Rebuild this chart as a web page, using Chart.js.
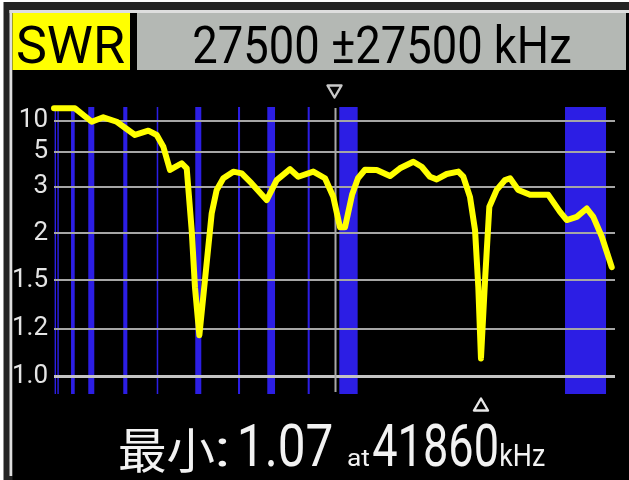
<!DOCTYPE html>
<html>
<head>
<meta charset="utf-8">
<script src="https://cdn.jsdelivr.net/npm/chart.js@4.4.0/dist/chart.umd.min.js"></script>
<style>
  html, body { margin: 0; padding: 0; background: #fff; }
  canvas { display: block; }
</style>
</head>
<body>
<canvas id="swrChart" width="629" height="480"></canvas>
<script>
// sweep: centre +/- span, kHz
const centerKHz = 27500;
const spanKHz = 27500;

// measured SWR curve
const freqKHz = [0, 2060, 3700, 4830, 6150, 7940, 9250, 10070, 10720, 11370,
  12520, 13010, 13500, 13820, 14250, 14800, 15460, 15950, 16600, 17580,
  18400, 19380, 20850, 21830, 23140, 23950, 25420, 26570, 27380, 28040,
  28530, 29220, 29800, 30490, 31640, 32940, 33920, 35230, 36050, 36860,
  37520, 38500, 39640, 40130, 40780, 41280, 41600, 41860, 42260, 42680,
  43400, 44220, 44710, 45520, 46670, 48460, 49610, 50270, 51250, 52230,
  52870, 53700, 54680];
const swr = [15.5, 15.5, 9.7, 11.1, 9.7, 6.95, 7.67, 6.95, 5.47, 3.76,
  4.15, 3.85, 2.05, 1.45, 1.17, 1.5, 2.36, 2.91, 3.35, 3.67,
  3.58, 3.13, 2.65, 3.27, 3.8, 3.42, 3.67, 3.35, 2.73, 2.1,
  2.1, 2.78, 3.35, 3.77, 3.76, 3.45, 3.85, 4.25, 3.94, 3.42,
  3.3, 3.55, 3.67, 3.42, 2.73, 2.05, 1.45, 1.07, 1.5, 2.5,
  2.91, 3.27, 3.35, 2.91, 2.78, 2.78, 2.39, 2.23, 2.29, 2.46,
  2.29, 1.96, 1.62];

// ham bands shown in blue, kHz
const bandStartKHz = [60, 330, 1670, 3360, 6790, 10070, 13850, 18040, 20910, 24870, 27970, 50100];
const bandEndKHz = [137, 470, 2030, 3950, 7190, 10220, 14440, 18240, 21670, 25070, 29770, 54120];

// y axis ticks
const yTickValues = [1.0, 1.2, 1.5, 2, 3, 5, 10];
const yTickLabels = ['1.0', '1.2', '1.5', '2', '3', '5', '10'];

// the analyzer's SWR scale is not linear: axis units reached at each tick
const swrAxisSteps = [0, 47.3, 96, 142.7, 189.3, 224.3, 255.3];

const gamma = (s) => (s - 1) / (s + 1);
function swrToAxis(s) {
  const g = gamma(s);
  const n = yTickValues.length;
  for (let i = 1; i < n; i++) {
    const g0 = gamma(yTickValues[i - 1]);
    const g1 = gamma(yTickValues[i]);
    if (g <= g1 || i === n - 1) {
      return swrAxisSteps[i - 1] + (g - g0) / (g1 - g0) * (swrAxisSteps[i] - swrAxisSteps[i - 1]);
    }
  }
  return 0;
}

const SANS = 'Roboto, "DejaVu Sans", sans-serif';
const CJK = '"Noto Sans CJK SC", "Noto Sans CJK JP", sans-serif';

let minIdx = 0;
swr.forEach((v, i) => { if (v < swr[minIdx]) minIdx = i; });

// squeeze a string so its ink runs from x0 to x1 (display font is condensed)
function fitText(c, text, x0, x1, baseline, font) {
  c.font = font;
  const m = c.measureText(text);
  const ink = m.actualBoundingBoxLeft + m.actualBoundingBoxRight;
  const k = (x1 - x0) / ink;
  c.save();
  c.translate(x0 + m.actualBoundingBoxLeft * k, baseline);
  c.scale(k, 1);
  c.textAlign = 'left';
  c.fillText(text, 0, 0);
  c.restore();
}

const analyzerFrame = {
  id: 'analyzerFrame',
  beforeDraw(chart) {
    const c = chart.ctx;
    const xs = chart.scales.x;
    const area = chart.chartArea;
    c.save();
    c.fillStyle = '#ffffff';
    c.fillRect(0, 0, 629, 480);
    c.fillStyle = '#242424';
    c.fillRect(3.5, 2, 626, 478);
    c.fillStyle = '#dedede';
    c.fillRect(9.5, 10, 620, 3);
    c.fillRect(9.5, 10, 3, 466);
    c.fillStyle = '#000000';
    c.fillRect(12.5, 13, 617, 467);
    c.fillStyle = '#ffff00';
    c.fillRect(12.5, 13, 117.5, 57);
    c.fillStyle = '#b4b8b4';
    c.fillRect(137, 13, 489, 57);

    c.fillStyle = '#000';
    c.textBaseline = 'alphabetic';
    fitText(c, 'SWR', 18, 125, 63, '52px ' + SANS);
    fitText(c, centerKHz + ' \u00b1' + spanKHz + ' kHz', 194, 571, 63, '52px ' + SANS);

    c.fillStyle = '#2c1ee4';
    bandStartKHz.forEach((b, i) => {
      const x0 = xs.getPixelForValue(b);
      let x1 = xs.getPixelForValue(bandEndKHz[i]);
      if (x1 - x0 < 1.4) x1 = x0 + 1.4;
      c.fillRect(x0, area.top, x1 - x0, area.bottom - area.top);
    });
    c.restore();
  },
  beforeDatasetsDraw(chart) {
    const c = chart.ctx;
    const xs = chart.scales.x;
    const area = chart.chartArea;
    const xc = Math.round(xs.getPixelForValue(centerKHz)) + 0.5;
    c.save();
    c.strokeStyle = '#a8a8a8';
    c.lineWidth = 2;
    c.beginPath();
    c.moveTo(xc, area.top + 1);
    c.lineTo(xc, area.bottom - 2);
    c.stroke();
    c.restore();
  },
  afterDraw(chart) {
    const c = chart.ctx;
    const xs = chart.scales.x;
    const xc = xs.getPixelForValue(centerKHz);
    const xm = xs.getPixelForValue(freqKHz[minIdx]);
    c.save();
    c.lineWidth = 2.4;
    c.lineJoin = 'round';
    c.strokeStyle = '#c8c8c8';
    c.beginPath();
    c.moveTo(xc - 7, 85.5);
    c.lineTo(xc + 7, 85.5);
    c.lineTo(xc, 97.5);
    c.closePath();
    c.stroke();
    c.strokeStyle = '#e8e8e8';
    c.beginPath();
    c.moveTo(xm - 7, 410.5);
    c.lineTo(xm + 7, 410.5);
    c.lineTo(xm, 398.5);
    c.closePath();
    c.stroke();

    c.fillStyle = '#f2f2f2';
    c.textBaseline = 'alphabetic';
    fitText(c, '最小', 120, 214, 468, '48px ' + CJK);
    fitText(c, ':', 218, 227, 466, '52px ' + SANS);
    fitText(c, swr[minIdx].toFixed(2), 241, 332, 466, '60px ' + SANS);
    fitText(c, 'at', 348, 370, 466, '24px ' + SANS);
    fitText(c, String(freqKHz[minIdx]), 373, 497, 466, '60px ' + SANS);
    fitText(c, 'kHz', 501, 545, 466, '31px ' + SANS);
    c.restore();
  }
};

new Chart(document.getElementById('swrChart'), {
  type: 'line',
  data: {
    datasets: [{
      data: freqKHz.map((f, i) => ({ x: f, y: swrToAxis(swr[i]) })),
      borderColor: '#ffff00',
      borderWidth: 6,
      borderJoinStyle: 'round',
      borderCapStyle: 'round',
      pointRadius: 0,
      tension: 0,
      clip: 8
    }]
  },
  options: {
    responsive: false,
    animation: false,
    devicePixelRatio: 1,
    layout: { padding: { left: 12, right: 14, top: 107, bottom: 86 } },
    plugins: { legend: { display: false }, tooltip: { enabled: false } },
    scales: {
      x: {
        type: 'linear',
        min: centerKHz - spanKHz,
        max: centerKHz + spanKHz,
        display: false
      },
      y: {
        type: 'linear',
        min: -18,
        max: 269,
        afterBuildTicks: (s) => { s.ticks = yTickValues.map((v) => ({ value: swrToAxis(v) })); },
        afterFit: (s) => { s.width = 42; },
        border: { display: false },
        grid: {
          drawTicks: false,
          color: (ctx) => (ctx.index === 0 ? '#c4c4c4' : '#a6a6a6'),
          lineWidth: (ctx) => (ctx.index === 0 ? 3 : 2)
        },
        ticks: {
          autoSkip: false,
          padding: 6,
          color: '#e4e4e4',
          font: { family: SANS, size: 26 },
          callback: (v, i) => yTickLabels[i]
        }
      }
    }
  },
  plugins: [analyzerFrame]
});
</script>
</body>
</html>
